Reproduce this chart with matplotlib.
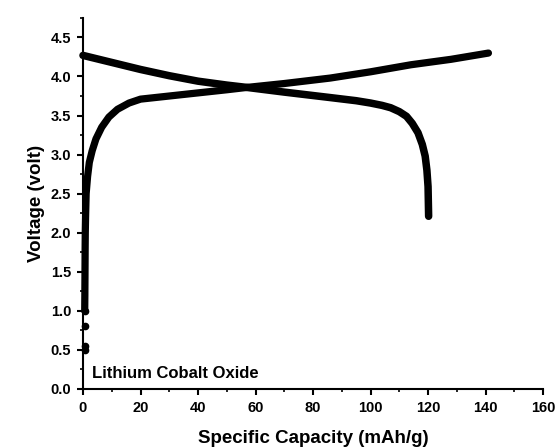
import matplotlib
matplotlib.use('Agg')
import matplotlib.pyplot as plt
from matplotlib.ticker import MultipleLocator

plt.rcParams['font.family'] = ['Liberation Sans', 'DejaVu Sans']
plt.rcParams['font.weight'] = 'bold'

# Charge curve (capacity in mAh/g, voltage in volt)
charge_x = [0.6, 0.6, 0.6, 0.6, 0.65, 0.7, 0.75, 0.8, 0.9, 1.1, 1.6, 2.2, 3.2,
            4.5, 6.5, 9, 12, 16, 20, 30, 40, 50, 57, 70, 86, 100, 114, 128, 141]
charge_y = [0.5, 0.55, 0.8, 1.0, 1.2, 1.5, 1.8, 2.0, 2.2, 2.5, 2.72, 2.9, 3.05,
            3.2, 3.35, 3.48, 3.58, 3.66, 3.71, 3.75, 3.79, 3.83, 3.86, 3.91,
            3.98, 4.06, 4.15, 4.22, 4.30]

# Discharge curve
discharge_x = [0, 10, 20, 30, 40, 50, 57, 70, 86, 95, 100, 104, 107, 110,
               112.5, 114.5, 116.5, 118, 119, 119.6, 120, 120.2]
discharge_y = [4.27, 4.18, 4.09, 4.01, 3.94, 3.89, 3.86, 3.80, 3.73, 3.69,
               3.66, 3.63, 3.60, 3.55, 3.49, 3.40, 3.28, 3.13, 2.98, 2.8,
               2.59, 2.21]

fig = plt.figure(figsize=(5.57, 4.48), dpi=100)
ax = fig.add_axes([0.149, 0.132, 0.826, 0.828])

# sparse points at the start of charge, then a continuous thick trace
ax.plot(charge_x[:4], charge_y[:4], 'o', color='black', ms=4.5, clip_on=False)
ax.plot(charge_x[3:], charge_y[3:], '-', color='black', lw=5.2,
        solid_capstyle='round', solid_joinstyle='round', clip_on=False)
ax.plot(discharge_x, discharge_y, '-', color='black', lw=5.4,
        solid_capstyle='round', solid_joinstyle='round', clip_on=False)

ax.set_xlim(0, 160)
ax.set_ylim(0, 4.75)
ax.xaxis.set_major_locator(MultipleLocator(20))
ax.xaxis.set_minor_locator(MultipleLocator(10))
ax.yaxis.set_major_locator(MultipleLocator(0.5))
ax.yaxis.set_minor_locator(MultipleLocator(0.25))
ax.yaxis.set_major_formatter(plt.FormatStrFormatter('%.1f'))

for s in ['top', 'right']:
    ax.spines[s].set_visible(False)
for s in ['left', 'bottom']:
    ax.spines[s].set_linewidth(1.5)

ax.tick_params(which='major', direction='out', length=4.5, width=1.5,
               labelsize=10.5, pad=4)
ax.tick_params(which='minor', direction='out', length=2.5, width=1.2)
for lbl in ax.get_xticklabels() + ax.get_yticklabels():
    lbl.set_fontweight('bold')

ax.set_xlabel('Specific Capacity (mAh/g)', fontsize=13.5, fontweight='bold',
              labelpad=11)
ax.set_ylabel('Voltage (volt)', fontsize=13.5, fontweight='bold', labelpad=4)

ax.text(0.02, 0.022, 'Lithium Cobalt Oxide', transform=ax.transAxes,
        fontsize=12, fontweight='bold', ha='left', va='bottom')

fig.savefig('out.png', dpi=100)
